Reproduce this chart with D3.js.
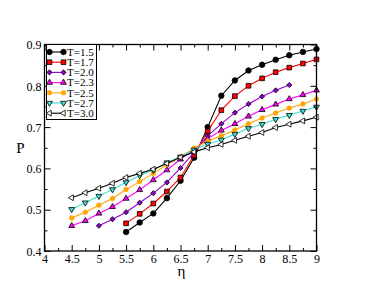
<!DOCTYPE html>
<html>
<head>
<meta charset="utf-8">
<script src="https://cdn.jsdelivr.net/npm/d3@7"></script>
<style>
  body { margin: 0; background: #fff; }
  svg { display: block; }
  svg text { font-family: 'Liberation Serif', 'Times New Roman', serif; }
</style>
</head>
<body>
<svg id="chart" width="385" height="298"></svg>
<script>
// data: P against eta, one list per temperature
var etaFull = [4.5, 4.75, 5, 5.25, 5.5, 5.75, 6, 6.25, 6.5, 6.75, 7, 7.25, 7.5, 7.75, 8, 8.25, 8.5, 8.75, 9];
var etaFrom55 = [5.5, 5.75, 6, 6.25, 6.5, 6.75, 7, 7.25, 7.5, 7.75, 8, 8.25, 8.5, 8.75, 9];
var etaFrom5to85 = [5, 5.25, 5.5, 5.75, 6, 6.25, 6.5, 6.75, 7, 7.25, 7.5, 7.75, 8, 8.25, 8.5];

var pT15 = [0.446, 0.469, 0.491, 0.528, 0.570, 0.626, 0.700, 0.776, 0.813, 0.837, 0.851, 0.863, 0.874, 0.882, 0.889];
var pT17 = [0.467, 0.490, 0.515, 0.544, 0.578, 0.632, 0.690, 0.741, 0.775, 0.800, 0.818, 0.833, 0.844, 0.854, 0.864];
var pT20 = [0.461, 0.477, 0.494, 0.517, 0.540, 0.566, 0.601, 0.639, 0.679, 0.708, 0.735, 0.756, 0.774, 0.789, 0.802];
var pT23 = [0.461, 0.473, 0.491, 0.507, 0.527, 0.548, 0.572, 0.596, 0.622, 0.645, 0.672, 0.692, 0.708, 0.726, 0.742, 0.755, 0.768, 0.778, 0.789];
var pT25 = [0.480, 0.494, 0.511, 0.527, 0.549, 0.568, 0.588, 0.609, 0.628, 0.649, 0.666, 0.679, 0.693, 0.708, 0.722, 0.734, 0.746, 0.756, 0.768];
var pT27 = [0.501, 0.517, 0.533, 0.549, 0.566, 0.583, 0.596, 0.614, 0.628, 0.645, 0.659, 0.669, 0.683, 0.697, 0.707, 0.719, 0.729, 0.739, 0.749];
var pT30 = [0.529, 0.541, 0.552, 0.564, 0.578, 0.588, 0.598, 0.612, 0.627, 0.640, 0.650, 0.658, 0.668, 0.678, 0.687, 0.699, 0.707, 0.715, 0.724];

var seriesLabels = ['T=1.5', 'T=1.7', 'T=2.0', 'T=2.3', 'T=2.5', 'T=2.7', 'T=3.0'];
var xTickLabels = ['4', '4.5', '5', '5.5', '6', '6.5', '7', '7.5', '8', '8.5', '9'];
var yTickLabels = ['0.4', '0.5', '0.6', '0.7', '0.8', '0.9'];

// look of each series (xmgrace style); size is the d3.symbol area
var styles = [
  {line: '#000000', fill: '#000000', stroke: '#000000', symbol: d3.symbolCircle, size: 24, rot: 0},
  {line: '#ff0000', fill: '#ff0000', stroke: '#000000', symbol: d3.symbolSquare, size: 22, rot: 0},
  {line: '#9400d3', fill: '#9400d3', stroke: '#000000', symbol: d3.symbolSquare, size: 13, rot: 45},
  {line: '#ff00ff', fill: '#ff00ff', stroke: '#000000', symbol: d3.symbolTriangle, size: 15, rot: 0},
  {line: '#ffa500', fill: '#ffa500', stroke: '#ffa500', symbol: d3.symbolCircle, size: 16, rot: 0},
  {line: '#40e0d0', fill: '#40e0d0', stroke: '#000000', symbol: d3.symbolTriangle, size: 15, rot: 180},
  {line: '#000000', fill: '#ffffff', stroke: '#000000', symbol: d3.symbolTriangle, size: 15, rot: -90}
];

var series = [
  {label: seriesLabels[0], eta: etaFrom55, p: pT15},
  {label: seriesLabels[1], eta: etaFrom55, p: pT17},
  {label: seriesLabels[2], eta: etaFrom5to85, p: pT20},
  {label: seriesLabels[3], eta: etaFull, p: pT23},
  {label: seriesLabels[4], eta: etaFull, p: pT25},
  {label: seriesLabels[5], eta: etaFull, p: pT27},
  {label: seriesLabels[6], eta: etaFull, p: pT30}
];

var margin = {left: 44.5, top: 44.5, right: 316.5, bottom: 251};

var svg = d3.select('#chart');

var x = d3.scaleLinear().domain([4, 9]).range([margin.left, margin.right]);
var y = d3.scaleLinear().domain([0.4, 0.9]).range([margin.bottom, margin.top]);

function tickValues(lo, hi, step) {
  var out = [];
  var n = Math.round((hi - lo) / step);
  for (var i = 0; i <= n; i++) out.push(+(lo + i * step).toFixed(4));
  return out;
}

// inward ticks on all four sides, like grace does
function drawAxes() {
  var xMajor = tickValues(4, 9, 0.5), xMinor = tickValues(4.25, 8.75, 0.5);
  var yMajor = tickValues(0.4, 0.9, 0.1), yMinor = tickValues(0.45, 0.85, 0.1);

  var bottom = svg.append('g').attr('transform', 'translate(0,' + margin.bottom + ')')
    .call(d3.axisBottom(x).tickValues(xMajor).tickSizeInner(-6).tickSizeOuter(0)
      .tickFormat(function(d, i) { return xTickLabels[i]; }));
  svg.append('g').attr('transform', 'translate(0,' + margin.bottom + ')')
    .call(d3.axisBottom(x).tickValues(xMinor).tickSize(-3).tickFormat(''));
  svg.append('g').attr('transform', 'translate(0,' + margin.top + ')')
    .call(d3.axisTop(x).tickValues(xMajor).tickSize(-6).tickFormat(''));
  svg.append('g').attr('transform', 'translate(0,' + margin.top + ')')
    .call(d3.axisTop(x).tickValues(xMinor).tickSize(-3).tickFormat(''));

  var left = svg.append('g').attr('transform', 'translate(' + margin.left + ',0)')
    .call(d3.axisLeft(y).tickValues(yMajor).tickSizeInner(-6).tickSizeOuter(0)
      .tickFormat(function(d, i) { return yTickLabels[i]; }));
  svg.append('g').attr('transform', 'translate(' + margin.left + ',0)')
    .call(d3.axisLeft(y).tickValues(yMinor).tickSize(-3).tickFormat(''));
  svg.append('g').attr('transform', 'translate(' + margin.right + ',0)')
    .call(d3.axisRight(y).tickValues(yMajor).tickSize(-6).tickFormat(''));
  svg.append('g').attr('transform', 'translate(' + margin.right + ',0)')
    .call(d3.axisRight(y).tickValues(yMinor).tickSize(-3).tickFormat(''));

  svg.selectAll('.domain').remove();
  svg.selectAll('g').attr('font-family', null);
  svg.selectAll('.tick line').attr('stroke', '#000').attr('stroke-width', 1);

  bottom.selectAll('text').attr('y', 3).attr('dy', '0.71em')
    .attr('font-size', 12).attr('fill', '#000');
  left.selectAll('text').attr('x', -3).attr('dy', '0.35em')
    .attr('font-size', 12).attr('fill', '#000');

  // frame
  svg.append('rect')
    .attr('x', margin.left).attr('y', margin.top)
    .attr('width', margin.right - margin.left).attr('height', margin.bottom - margin.top)
    .attr('fill', 'none').attr('stroke', '#000').attr('stroke-width', 1.3);

  svg.append('text').text('η')
    .attr('x', 181.5).attr('y', 275.5)
    .attr('text-anchor', 'middle').attr('font-size', 15);
  svg.append('text').text('P')
    .attr('x', 20.5).attr('y', 153)
    .attr('text-anchor', 'middle').attr('font-size', 15);
}

function markerPath(st) {
  return d3.symbol().type(st.symbol).size(st.size)();
}

function drawSeries() {
  var line = d3.line().x(function(d) { return x(d[0]); }).y(function(d) { return y(d[1]); });
  var groups = svg.selectAll('.series').data(series).enter()
    .append('g').attr('class', 'series');

  groups.append('path')
    .attr('d', function(s) { return line(d3.zip(s.eta, s.p)); })
    .attr('fill', 'none')
    .attr('stroke', function(s, i) { return styles[i].line; })
    .attr('stroke-width', 1.1);

  groups.each(function(s, i) {
    var st = styles[i];
    d3.select(this).selectAll('.mark').data(d3.zip(s.eta, s.p)).enter()
      .append('path').attr('class', 'mark')
      .attr('d', markerPath(st))
      .attr('transform', function(d) { return 'translate(' + x(d[0]) + ',' + y(d[1]) + ') rotate(' + st.rot + ')'; })
      .attr('fill', st.fill)
      .attr('stroke', st.stroke)
      .attr('stroke-width', 0.8);
  });
}

function drawLegend() {
  var lg = svg.append('g').attr('class', 'legend');
  lg.append('rect')
    .attr('x', 46.5).attr('y', 44.5).attr('width', 50).attr('height', 75)
    .attr('fill', '#fff').attr('stroke', '#000').attr('stroke-width', 1);

  var rows = lg.selectAll('.row').data(series).enter().append('g')
    .attr('class', 'row')
    .attr('transform', function(d, i) { return 'translate(0,' + (52 + i * 10.2) + ')'; });

  rows.each(function(s, i) {
    var st = styles[i];
    var r = d3.select(this);
    r.append('line').attr('x1', 49.5).attr('x2', 63.5).attr('y1', 0).attr('y2', 0)
      .attr('stroke', st.line).attr('stroke-width', 1.1);
    [49.5, 63.5].forEach(function(px) {
      r.append('path').attr('d', markerPath(st))
        .attr('transform', 'translate(' + px + ',0) rotate(' + st.rot + ')')
        .attr('fill', st.fill).attr('stroke', st.stroke).attr('stroke-width', 0.8);
    });
    r.append('text').text(s.label)
      .attr('x', 67).attr('y', 0).attr('dy', '0.35em')
      .attr('font-size', 11).attr('fill', '#000');
  });
}

drawSeries();
drawAxes();
drawLegend();
</script>
</body>
</html>
